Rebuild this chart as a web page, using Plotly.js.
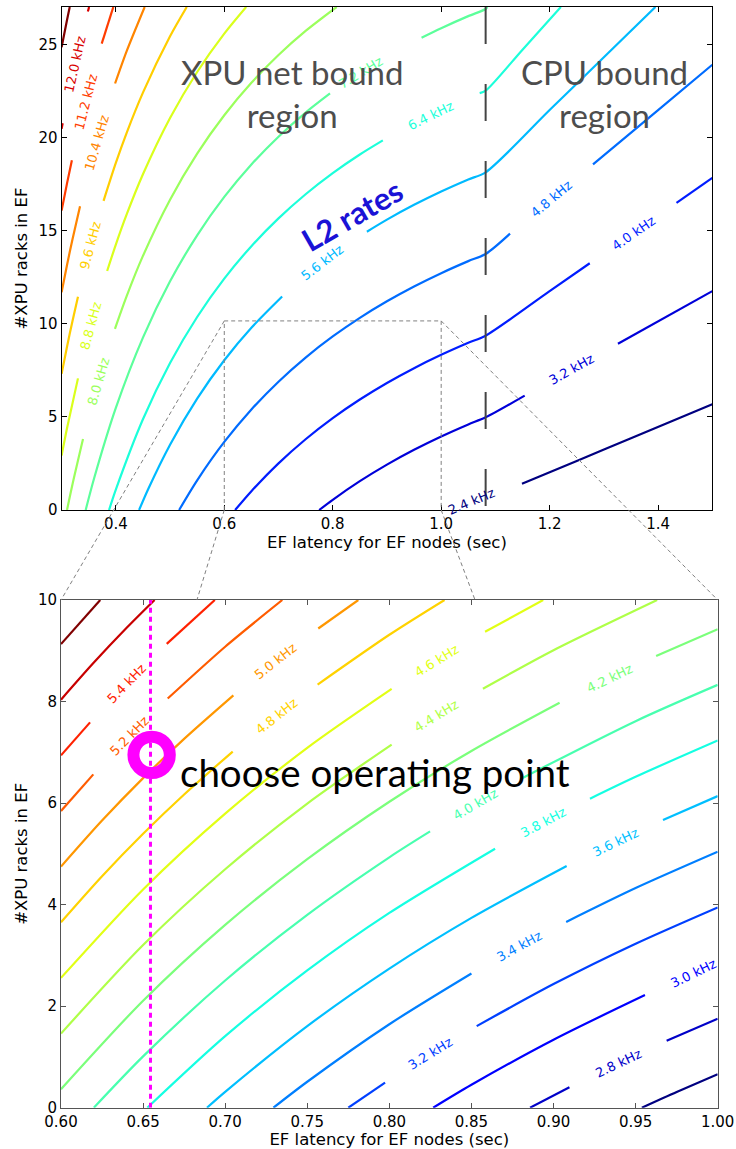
<!DOCTYPE html>
<html><head><meta charset="utf-8">
<script src="https://cdn.plot.ly/plotly-3.0.1.min.js"></script>
<style>html,body{margin:0;padding:0;background:#fff;}#chart{width:736px;height:1149px;}</style>
</head><body><div id="chart"></div>
<script>
// ---------------- DATA ----------------
// Upper panel: L2-rate contour levels (kHz) and their traced lines (null = gap left for the inline label)
const topLevels = [2.4, 3.2, 4.0, 4.8, 5.6, 6.4, 7.2, 8.0, 8.8, 9.6, 10.4, 11.2, 12.0, 12.8];
const topLineX = [
  [1.149,1.25,1.35,1.5],
  [0.775,0.8,0.85,0.9,0.95,1.0,1.05,1.082,1.154,null,1.326,1.5],
  [0.62,0.65,0.7,0.75,0.8,0.85,0.9,0.95,1.0,1.05,1.082,1.2,1.274,null,1.434,1.5],
  [0.5167,0.55,0.6,0.65,0.7,0.75,0.8,0.85,0.9,0.95,1.0,1.05,1.082,1.127,null,1.28,1.4,1.5],
  [0.4429,0.46,0.5,0.55,0.6,0.65,0.7067,null,0.863,0.9,0.95,1.0,1.05,1.082,1.2,1.3,1.3951],
  [0.3875,0.4,0.45,0.5,0.55,0.6,0.65,0.7,0.75,0.8,0.85,0.8924,null,1.071,1.082,1.15,1.2207],
  [0.3444,0.36,0.4,0.45,0.5,0.55,0.6,0.65,0.7,0.75,0.795,null,0.9638,1.0,1.05,1.082,1.0851],
  [0.31,0.32,0.3395,null,0.3984,0.42,0.45,0.5,0.55,0.6,0.65,0.7,0.75,0.8072],
  [0.3,0.31,0.3302,null,0.384,0.4,0.42,0.45,0.5,0.55,0.6,0.6404],
  [0.3,0.31,0.32,0.3302,null,0.3774,0.4,0.42,0.45,0.5,0.5308],
  [0.3,0.31,0.32,0.334,null,0.3986,0.42,0.4532],
  [0.3,0.31,0.319,null,0.374,0.3954],
  [0.3,0.302,null,0.3485,0.3507],
  [0.3,0.31,0.315]
];
const topLineY = [
  [1.406,2.633,3.848,5.671],
  [0,0.548,1.547,2.435,3.230,3.945,4.592,4.975,6.141,null,8.928,11.747],
  [0,1.011,2.505,3.799,4.932,5.931,6.819,7.614,8.329,8.976,9.358,11.747,13.246,null,16.486,17.823],
  [0,1.594,3.653,5.395,6.888,8.183,9.315,10.314,11.202,11.997,12.712,13.359,13.742,14.834,null,18.552,21.468,23.899],
  [0,1.144,3.507,5.977,8.037,9.779,11.456,null,14.939,15.586,16.381,17.096,17.743,18.125,21.468,24.304,27],
  [0,1.096,4.871,7.890,10.361,12.420,14.162,15.655,16.950,18.082,19.082,19.84,null,22.380,22.509,24.709,27],
  [0,1.705,5.479,9.254,12.274,14.745,16.804,18.546,20.039,21.333,22.359,null,25.353,25.863,26.510,26.892,27],
  [0,1.370,3.809,null,9.727,11.48,13.638,16.658,19.128,21.187,22.929,24.423,25.717,27],
  [2.922,4.384,7.065,null,12.83,14.247,15.864,18.021,21.041,23.512,25.571,27],
  [7.306,8.767,10.137,11.449,null,16.596,18.630,20.248,22.405,25.425,27],
  [11.689,13.151,14.521,16.301,null,22.894,24.631,27],
  [16.073,17.534,18.771,null,25.036,27],
  [20.457,20.757,null,26.76,27],
  [24.844,26.301,27]
];
const topLabelText = ['2.4 kHz','3.2 kHz','4.0 kHz','4.8 kHz','5.6 kHz','6.4 kHz','7.2 kHz','8.0 kHz','8.8 kHz','9.6 kHz','10.4 kHz','11.2 kHz','12.0 kHz',null];
const topLabelX = [1.055,1.24,1.354,1.204,0.781,0.981,0.852,0.368,0.354,0.353,0.364,0.344,0.325,null];
const topLabelY = [0.45,7.53,14.86,16.70,13.27,21.2,23.5,6.9,9.9,14.2,19.7,21.9,23.9,null];

// CPU / XPU boundary in the upper panel and the zoomed box
const regionBoundaryX = 1.082;
const zoomBoxX = [0.6, 1.0];
const zoomBoxY = [0, 10.15];
const connectorEndX = [0.6, 1.0, 0.6828, 0.8522];   // where the four zoom lines meet the lower panel's top edge

// Lower panel: finer contour levels (kHz)
const bottomLevels = [2.6,2.8,3.0,3.2,3.4,3.6,3.8,4.0,4.2,4.4,4.6,4.8,5.0,5.2,5.4,5.6,5.8];
const bottomLineX = [
  [0.9538,0.975,1.0],
  [0.8857,0.9097,null,0.9689,1.0],
  [0.8267,0.85,0.9,0.9557],
  [0.775,0.7974,null,0.8532,0.9,0.95,1.0],
  [0.7294,0.75,0.8,0.85,null,0.9077,0.95,1.0],
  [0.6889,0.7,0.75,0.8,0.85,0.908,null,0.9667,1.0],
  [0.6526,0.7,0.75,0.8,0.8644,null,0.9222,0.95,1.0],
  [0.62,0.65,0.7,0.75,0.8,0.8248,null,0.88,0.95,1.0],
  [0.6,0.65,0.7,0.75,0.8,0.85,0.9037,null,0.9625,1.0],
  [0.6,0.65,0.7,0.75,0.8014,null,0.857,0.9,0.9631],
  [0.6,0.65,0.7,0.75,0.8014,null,0.8583,0.8937],
  [0.6,0.625,0.65,0.675,0.7046,null,0.7563,0.8,0.8336],
  [0.6,0.625,0.65,0.675,0.705,null,0.7567,0.7811],
  [0.6,0.6197,null,0.665,0.7,0.7348],
  [0.6,0.6177,null,0.6644,0.6937],
  [0.6,0.62,0.64,0.657],
  [0.6,0.6239]
];
const bottomLineY = [
  [0,0.309,0.658],
  [0,0.404,null,1.317,1.753],
  [0,0.4515,1.339,2.219],
  [0,0.493,null,1.607,2.435,3.230,3.945],
  [0,0.511,1.644,2.643,null,3.659,4.326,5.041],
  [0,0.313,1.607,2.740,3.739,4.760,null,5.668,6.137],
  [0,1.409,2.703,3.836,5.101,null,6.087,6.518,7.233],
  [0,1.011,2.505,3.799,4.932,5.442,null,6.476,7.614,8.329],
  [0.365,2.107,3.601,4.895,6.027,7.027,7.976,null,8.895,9.425],
  [1.461,3.203,4.696,5.991,7.152,null,8.253,9.011,10],
  [2.557,4.299,5.792,7.087,8.248,null,9.373,10],
  [3.653,4.559,5.395,6.169,7.015,null,8.334,9.315,10],
  [4.749,5.655,6.491,7.265,8.122,null,9.439,10],
  [5.845,6.565,null,8.059,9.080,10],
  [6.941,7.59,null,9.136,10],
  [8.037,8.767,9.452,10],
  [9.132,10]
];
const bottomLabelText = [null,'2.8 kHz','3.0 kHz','3.2 kHz','3.4 kHz','3.6 kHz','3.8 kHz','4.0 kHz','4.2 kHz','4.4 kHz','4.6 kHz','4.8 kHz','5.0 kHz','5.2 kHz','5.4 kHz',null,null];
const bottomLabelX = [null,0.9393,0.985,0.825,0.879,0.9375,0.8936,0.8522,0.934,0.829,0.829,0.731,0.7304,0.642,0.640,null,null];
const bottomLabelY = [null,0.875,2.642,1.06,3.17,5.23,5.615,5.972,8.461,7.717,8.813,7.712,8.792,7.327,8.356,null,null];

// chosen operating point
const operatingX = [0.6552];
const operatingY = [6.95];
const operatingLineX = [0.6545, 0.6545];

// ---------------- LAYOUT GEOMETRY ----------------
const W = 736, H = 1149;
const topDomX = [61.6/W, 712.3/W], topDomY = [(H-510)/H, (H-7)/H];
const botDomX = [61/W, 717.7/W],   botDomY = [(H-1107.7)/H, (H-600)/H];
const topRX = [0.3, 1.5], topRY = [0, 27];
const botRX = [0.6, 1.0], botRY = [0, 10];

function interp(t, pts){
  for (let i=0;i<pts.length-1;i++){
    const a=pts[i], b=pts[i+1];
    if (t>=a[0] && t<=b[0]) return a[1]+(b[1]-a[1])*(t-a[0])/(b[0]-a[0]);
  }
  return pts[pts.length-1][1];
}
function jet(t){
  const r = interp(t,[[0,0],[0.35,0],[0.66,1],[0.89,1],[1,0.5]]);
  const g = interp(t,[[0,0],[0.125,0],[0.375,1],[0.64,1],[0.91,0],[1,0]]);
  const b = interp(t,[[0,0.5],[0.11,1],[0.34,1],[0.65,0],[1,0]]);
  return 'rgb('+Math.round(r*255)+','+Math.round(g*255)+','+Math.round(b*255)+')';
}
function labelAngle(xs, ys, lx, ly, sx, sy){
  const p=[];
  for (let i=0;i<xs.length;i++) if (xs[i]!==null) p.push([xs[i]*sx, ys[i]*sy]);
  const L=[lx*sx, ly*sy];
  let best=Infinity, ang=0;
  for (let i=0;i<p.length-1;i++){
    const dx=p[i+1][0]-p[i][0], dy=p[i+1][1]-p[i][1];
    const len2=dx*dx+dy*dy;
    let t=len2>0?((L[0]-p[i][0])*dx+(L[1]-p[i][1])*dy)/len2:0;
    t=Math.max(0,Math.min(1,t));
    const cx=p[i][0]+t*dx-L[0], cy=p[i][1]+t*dy-L[1];
    const d=Math.sqrt(cx*cx+cy*cy);
    if (d<best){best=d; ang=Math.atan2(dy,dx);}
  }
  let deg=ang*180/Math.PI;
  if (deg>90) deg-=180; if (deg<-90) deg+=180;
  return -deg;
}
function toPaper(domX, domY, rx, ry, x, y){
  return [domX[0]+(x-rx[0])/(rx[1]-rx[0])*(domX[1]-domX[0]),
          domY[0]+(y-ry[0])/(ry[1]-ry[0])*(domY[1]-domY[0])];
}

const topSX = (topDomX[1]-topDomX[0])*W/(topRX[1]-topRX[0]);
const topSY = (topDomY[1]-topDomY[0])*H/(topRY[1]-topRY[0]);
const botSX = (botDomX[1]-botDomX[0])*W/(botRX[1]-botRX[0]);
const botSY = (botDomY[1]-botDomY[0])*H/(botRY[1]-botRY[0]);

const traces = [];
const annotations = [];
const labelFont = 'DejaVu Sans, sans-serif';

topLevels.forEach((lev,i)=>{
  const col = jet((lev-topLevels[0])/(topLevels[topLevels.length-1]-topLevels[0]));
  traces.push({x:topLineX[i], y:topLineY[i], xaxis:'x', yaxis:'y', type:'scatter', mode:'lines',
    line:{color:col, width:2.2, shape:'spline', smoothing:0.8}, hoverinfo:'skip', connectgaps:false});
  if (topLabelText[i]) annotations.push({xref:'x', yref:'y', x:topLabelX[i], y:topLabelY[i], text:topLabelText[i],
    showarrow:false, textangle:labelAngle(topLineX[i], topLineY[i], topLabelX[i], topLabelY[i], topSX, topSY),
    font:{family:labelFont, size:13, color:col}});
});
bottomLevels.forEach((lev,i)=>{
  const col = jet((lev-bottomLevels[0])/(bottomLevels[bottomLevels.length-1]-bottomLevels[0]));
  traces.push({x:bottomLineX[i], y:bottomLineY[i], xaxis:'x2', yaxis:'y2', type:'scatter', mode:'lines',
    line:{color:col, width:2.2, shape:'spline', smoothing:0.8}, hoverinfo:'skip', connectgaps:false});
  if (bottomLabelText[i]) annotations.push({xref:'x2', yref:'y2', x:bottomLabelX[i], y:bottomLabelY[i], text:bottomLabelText[i],
    showarrow:false, textangle:labelAngle(bottomLineX[i], bottomLineY[i], bottomLabelX[i], bottomLabelY[i], botSX, botSY),
    font:{family:labelFont, size:13, color:col}});
});

// region boundary (dashed vertical line)
traces.push({x:[regionBoundaryX, regionBoundaryX], y:[topRY[1], topRY[0]], xaxis:'x', yaxis:'y', type:'scatter', mode:'lines',
  line:{color:'#444444', width:2, dash:'37px,40px'}, hoverinfo:'skip'});
// operating point: dotted vertical line
traces.push({x:operatingLineX, y:[botRY[0], botRY[1]], xaxis:'x2', yaxis:'y2', type:'scatter', mode:'lines',
  line:{color:'#ff00ff', width:3, dash:'5px,4px'}, hoverinfo:'skip'});

// Text call-outs
annotations.push({xref:'x', yref:'y', x:0.724, y:22.38, text:'XPU net bound<br>region', showarrow:false, align:'center',
  font:{family:'Lato, sans-serif', size:33, color:'#4d4d4d'}});
annotations.push({xref:'x', yref:'y', x:1.302, y:22.38, text:'CPU bound<br>region', showarrow:false, align:'center',
  font:{family:'Lato, sans-serif', size:33, color:'#4d4d4d'}});
annotations.push({xref:'x', yref:'y', x:0.8353, y:15.83, text:'L2 rates', showarrow:false, textangle:-30,
  font:{family:'Lato, sans-serif', size:31, color:'#1a12d6', weight:700}});
annotations.push({xref:'x2', yref:'y2', x:0.6713, y:6.62, xanchor:'left', text:'choose operating point', showarrow:false,
  font:{family:'Lato, sans-serif', size:38.5, color:'#000000'}});

// zoom box, connectors and the operating-point ring
const shapes = [];
shapes.push({type:'path', xref:'x', yref:'y',
  path:'M '+zoomBoxX[0]+','+zoomBoxY[0]+' L '+zoomBoxX[0]+','+zoomBoxY[1]+' L '+zoomBoxX[1]+','+zoomBoxY[1]+' L '+zoomBoxX[1]+','+zoomBoxY[0],
  line:{color:'#808080', width:1, dash:'4px,3px'}});
const fromPts = [[zoomBoxX[0],zoomBoxY[1]],[zoomBoxX[1],zoomBoxY[1]],[zoomBoxX[0],zoomBoxY[0]],[zoomBoxX[1],zoomBoxY[0]]];
fromPts.forEach((p,i)=>{
  const a = toPaper(topDomX, topDomY, topRX, topRY, p[0], p[1]);
  const b = toPaper(botDomX, botDomY, botRX, botRY, connectorEndX[i], botRY[1]);
  shapes.push({type:'line', xref:'paper', yref:'paper', x0:a[0], y0:a[1], x1:b[0], y1:b[1],
    line:{color:'#808080', width:1, dash:'4px,3px'}});
});
const ringR = 18.2;  // px, radius of the ring's centre line
shapes.push({type:'circle', xref:'x2', yref:'y2', xsizemode:'pixel', ysizemode:'pixel',
  xanchor:operatingX[0], yanchor:operatingY[0], x0:-ringR, x1:ringR, y0:-ringR, y1:ringR,
  line:{color:'#ff00ff', width:12}, fillcolor:'rgba(0,0,0,0)'});

const tickFont = {family:'DejaVu Sans, sans-serif', size:15, color:'#000'};
const titleFont = {family:'DejaVu Sans, sans-serif', size:16.5, color:'#000'};
function axisBase(){ return {showgrid:false, zeroline:false, showline:true, linecolor:'#000', linewidth:1, mirror:'ticks',
  ticks:'inside', ticklen:5, tickcolor:'#000', tickfont:tickFont, automargin:false}; }

const layout = {
  width:W, height:H, margin:{l:0,r:0,t:0,b:0}, paper_bgcolor:'#fff', plot_bgcolor:'#fff', showlegend:false,
  xaxis: Object.assign(axisBase(), {domain:topDomX, range:topRX, anchor:'y', tick0:0.4, dtick:0.2, tickformat:'.1f',
    title:{text:'EF latency for EF nodes (sec)', font:titleFont, standoff:1}}),
  yaxis: Object.assign(axisBase(), {domain:topDomY, range:topRY, anchor:'x', tick0:0, dtick:5,
    title:{text:'#XPU racks in EF', font:titleFont, standoff:6}}),
  xaxis2: Object.assign(axisBase(), {domain:botDomX, range:botRX, anchor:'y2', tick0:0.6, dtick:0.05, tickformat:'.2f',
    linecolor:'#555', tickcolor:'#555', title:{text:'EF latency for EF nodes (sec)', font:titleFont, standoff:1}}),
  yaxis2: Object.assign(axisBase(), {domain:botDomY, range:botRY, anchor:'x2', tick0:0, dtick:2,
    linecolor:'#555', tickcolor:'#555', title:{text:'#XPU racks in EF', font:titleFont, standoff:6}}),
  annotations:annotations, shapes:shapes
};
Plotly.newPlot('chart', traces, layout, {displayModeBar:false, staticPlot:true});
</script></body></html>
